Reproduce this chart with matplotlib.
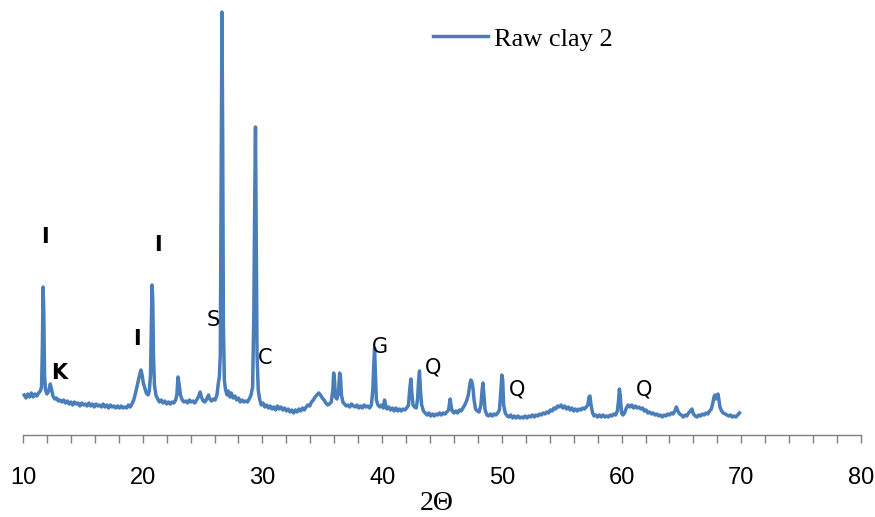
import matplotlib
matplotlib.use('Agg')
import matplotlib.pyplot as plt
from matplotlib.ticker import MultipleLocator
import numpy as np

# XRD pattern (2-theta in degrees, intensity in arbitrary units)
theta_a = [10.10, 10.25, 10.40, 10.55, 10.70, 10.85, 11.00, 11.15, 11.30, 11.45,
           11.55, 11.62, 11.68, 11.74, 11.80, 11.88, 12.00, 12.15, 12.28, 12.38,
           12.50, 12.65, 12.80, 12.95]
inten_a = [40, 37, 41, 38, 42, 38, 41, 39, 42, 44,
           48, 90, 148, 120, 60, 45, 41, 44, 51, 46,
           39, 36, 37, 34]

theta_b = [13.10, 13.25, 13.40, 13.55, 13.70, 13.85, 14.00, 14.15, 14.30, 14.45,
           14.60, 14.75, 14.90, 15.05, 15.20, 15.35, 15.50, 15.65, 15.80, 15.95,
           16.10, 16.25, 16.40, 16.55, 16.70, 16.85, 17.00, 17.15, 17.30, 17.45,
           17.60, 17.75, 17.90, 18.05, 18.20, 18.35, 18.50, 18.65, 18.80, 18.95]
inten_b = [35, 33, 35, 32, 34, 31, 33, 30, 33, 31,
           32, 29, 32, 30, 31, 29, 32, 29, 31, 28,
           31, 29, 30, 28, 31, 28, 30, 27, 30, 28,
           29, 27, 29, 27, 29, 27, 28, 27, 30, 28]

theta_c = [19.10, 19.25, 19.40, 19.55, 19.70, 19.85, 19.95, 20.05, 20.15, 20.30,
           20.45, 20.55, 20.65, 20.72, 20.78, 20.84, 20.90, 20.98, 21.10]
inten_c = [31, 35, 42, 50, 58, 65, 60, 52, 48, 42,
           40, 44, 60, 110, 150, 135, 80, 50, 40]

theta_d = [21.25, 21.40, 21.55, 21.70, 21.85, 22.00, 22.15, 22.30, 22.45, 22.60,
           22.75, 22.85, 22.95, 23.05, 23.15, 23.30, 23.45, 23.60, 23.75, 23.90,
           24.05, 24.20, 24.35, 24.50, 24.65, 24.80, 24.90, 25.05, 25.20, 25.35,
           25.50, 25.60, 25.75, 25.90, 26.05, 26.20]
inten_d = [36, 33, 35, 32, 34, 31, 33, 31, 33, 32,
           35, 40, 58, 50, 40, 35, 33, 34, 32, 35,
           33, 34, 32, 35, 38, 43, 38, 34, 33, 36,
           40, 36, 34, 36, 35, 40]

theta_e = [26.32, 26.40, 26.48, 26.55, 26.62, 26.68, 26.74, 26.82, 26.92, 27.05,
           27.15, 27.28, 27.40, 27.55, 27.70, 27.85, 28.00, 28.15, 28.30, 28.45,
           28.60, 28.75, 28.90, 29.05, 29.18, 29.28, 29.36, 29.42, 29.48, 29.55,
           29.65, 29.78, 29.90]
inten_e = [52, 58, 80, 250, 423, 300, 110, 55, 45, 40,
           44, 38, 42, 37, 39, 35, 37, 33, 35, 33,
           34, 33, 36, 40, 48, 120, 240, 308, 200, 80,
           45, 35, 30]

theta_f = [30.05, 30.20, 30.35, 30.50, 30.65, 30.80, 30.95, 31.10, 31.25, 31.40,
           31.55, 31.70, 31.85, 32.00, 32.15, 32.30, 32.45, 32.60, 32.75, 32.90,
           33.05, 33.20, 33.35, 33.50, 33.65, 33.80, 33.95, 34.10, 34.25, 34.40,
           34.55, 34.70, 34.85, 35.00, 35.15, 35.30, 35.45, 35.60, 35.75]
inten_f = [32, 28, 30, 27, 29, 26, 28, 25, 29, 26,
           28, 25, 27, 24, 26, 23, 25, 22, 25, 23,
           26, 24, 27, 25, 28, 30, 29, 33, 35, 38,
           40, 42, 40, 37, 35, 32, 30, 31, 33]

theta_g = [35.88, 35.95, 36.02, 36.10, 36.22, 36.35, 36.45, 36.52, 36.60, 36.72,
           36.85, 37.00, 37.15, 37.30, 37.45, 37.60, 37.75, 37.90, 38.05, 38.20,
           38.35, 38.50, 38.65, 38.80, 38.95, 39.10, 39.22, 39.30, 39.37, 39.44,
           39.52, 39.65, 39.80, 39.95]
inten_g = [45, 62, 55, 38, 36, 42, 62, 58, 40, 33,
           31, 29, 30, 28, 31, 29, 28, 30, 27, 29,
           27, 30, 28, 29, 27, 30, 45, 70, 87, 60,
           35, 30, 28, 30]

theta_h = [40.10, 40.20, 40.27, 40.40, 40.55, 40.70, 40.85, 41.00, 41.15, 41.30,
           41.45, 41.60, 41.75, 41.90, 42.05, 42.20, 42.30, 42.40, 42.48, 42.58,
           42.70, 42.85, 42.95, 43.05, 43.12, 43.20, 43.30, 43.45, 43.60, 43.75,
           43.90, 44.05, 44.20, 44.35, 44.50, 44.65, 44.80, 44.95, 45.10, 45.25,
           45.40]
inten_h = [27, 35, 31, 26, 28, 25, 27, 24, 27, 24,
           26, 24, 26, 25, 27, 30, 45, 56, 42, 30,
           28, 27, 35, 55, 64, 45, 30, 24, 22, 20,
           22, 19, 21, 19, 21, 20, 22, 20, 22, 21,
           23]

theta_i = [45.55, 45.68, 45.75, 45.85, 46.00, 46.15, 46.30, 46.45, 46.60, 46.75,
           46.90, 47.05, 47.20, 47.32, 47.40, 47.48, 47.58, 47.68, 47.80, 47.95,
           48.10, 48.25, 48.35, 48.42, 48.50, 48.60, 48.75, 48.90, 49.05, 49.20,
           49.35, 49.50, 49.65, 49.80, 49.92, 50.00, 50.07, 50.15, 50.28, 50.45,
           50.60, 50.75, 50.90]
inten_i = [25, 36, 30, 24, 22, 24, 22, 25, 24, 27,
           30, 34, 40, 50, 55, 54, 48, 35, 26, 24,
           23, 30, 45, 52, 40, 25, 20, 19, 21, 19,
           21, 20, 22, 25, 45, 60, 55, 30, 22, 19,
           18, 20, 17]

theta_j = [51.05, 51.20, 51.35, 51.50, 51.65, 51.80, 51.95, 52.10, 52.25, 52.40,
           52.55, 52.70, 52.85, 53.00, 53.15, 53.30, 53.45, 53.60, 53.75, 53.90,
           54.05, 54.20, 54.35, 54.50, 54.65, 54.80, 54.95, 55.10, 55.25, 55.40,
           55.55, 55.70, 55.85, 56.00, 56.15, 56.30, 56.45, 56.60, 56.75, 56.90,
           57.05]
inten_j = [19, 17, 19, 17, 18, 17, 19, 17, 19, 18,
           20, 18, 20, 19, 21, 20, 22, 21, 23, 22,
           25, 24, 27, 26, 29, 28, 30, 27, 29, 26,
           28, 25, 27, 24, 26, 24, 26, 25, 27, 26,
           28]

theta_k = [57.18, 57.28, 57.36, 57.45, 57.58, 57.70, 57.85, 58.00, 58.15, 58.30,
           58.45, 58.60, 58.75, 58.90, 59.05, 59.20, 59.35, 59.50, 59.65, 59.75,
           59.82, 59.90, 60.00, 60.12, 60.25, 60.40, 60.55, 60.70, 60.85, 61.00,
           61.15, 61.30, 61.45, 61.60, 61.75, 61.90, 62.05, 62.20, 62.35, 62.50,
           62.65, 62.80, 62.95]
inten_k = [30, 38, 39, 30, 22, 19, 20, 18, 20, 18,
           20, 18, 19, 18, 20, 19, 21, 20, 24, 35,
           46, 38, 22, 20, 22, 27, 30, 28, 30, 27,
           29, 27, 28, 26, 27, 24, 25, 22, 23, 21,
           22, 20, 21]

theta_l = [63.10, 63.25, 63.40, 63.55, 63.70, 63.85, 64.00, 64.15, 64.30, 64.45,
           64.58, 64.70, 64.85, 65.00, 65.15, 65.30, 65.45, 65.60, 65.75, 65.88,
           66.00, 66.15, 66.30, 66.45, 66.60, 66.75, 66.90, 67.05, 67.20, 67.35,
           67.50, 67.62, 67.72, 67.80, 67.88, 67.96, 68.05, 68.12, 68.22, 68.35,
           68.50, 68.65, 68.80, 68.95, 69.10, 69.25, 69.40, 69.55, 69.70, 69.85]
inten_l = [19, 20, 18, 20, 19, 21, 20, 22, 21, 24,
           28, 24, 21, 20, 18, 20, 19, 22, 24, 26,
           21, 19, 18, 20, 19, 21, 20, 22, 21, 24,
           26, 32, 38, 40, 36, 38, 41, 36, 28, 24,
           22, 21, 20, 19, 20, 18, 19, 18, 20, 22]

# phase labels: I illite, K kaolinite, S, C calcite, G, Q quartz
phase_labels = ['I', 'I', 'I', 'K', 'S', 'C', 'G', 'Q', 'Q', 'Q']
label_pos = [(11.84, 198), (21.28, 190), (19.52, 96), (13.01, 62), (25.87, 115),
             (30.22, 77), (39.82, 88), (44.25, 67), (51.27, 46), (61.88, 45)]

two_theta = theta_a + theta_b + theta_c + theta_d + theta_e + theta_f + \
    theta_g + theta_h + theta_i + theta_j + theta_k + theta_l
intensity = inten_a + inten_b + inten_c + inten_d + inten_e + inten_f + \
    inten_g + inten_h + inten_i + inten_j + inten_k + inten_l

fig = plt.figure(figsize=(8.75, 5.17), dpi=100)
ax = fig.add_axes([0, 0, 1, 1])
line_col = '#4a7ebb'
ax.plot(two_theta, intensity, color=line_col, lw=2.5, label='Raw clay 2', solid_joinstyle='round')

# px 23 -> 10, px 861 -> 80 ; axis line at px 435 from the top
ppu = 838 / 70
ax.set_xlim(10 - 23 / ppu, 80 + 14 / ppu)
ax.set_ylim(-82, 435)

for s in ['left', 'right', 'top']:
    ax.spines[s].set_visible(False)
ax.spines['bottom'].set_position(('data', 0))
ax.spines['bottom'].set_bounds(10, 80)
ax.spines['bottom'].set_color('#7f7f7f')
ax.spines['bottom'].set_linewidth(1.0)
ax.set_yticks([])

ax.xaxis.set_major_locator(MultipleLocator(10))
ax.xaxis.set_minor_locator(MultipleLocator(2))
ax.tick_params(axis='x', which='both', direction='out', length=6, width=1.0, color='#7f7f7f')
ax.tick_params(axis='x', which='major', pad=17, labelsize=17)
for t in ax.get_xticklabels():
    t.set_family('Liberation Sans')

fig.text(437 / 875, 1 - 504 / 517, '2Θ', family='Liberation Serif', fontsize=20,
         ha='center', va='center')

for lab, (px, py) in zip(phase_labels, label_pos):
    bold = lab in ('I', 'K')
    ax.text(px, py, lab, ha='center', va='center', fontsize=15,
            family='DejaVu Sans', fontweight='bold' if bold else 'normal', color='black')

fig.legend(loc='center left', bbox_to_anchor=(433 / 875, 1 - 39 / 517), frameon=False,
           borderpad=0, borderaxespad=0, handlelength=2.1, handletextpad=0.2,
           prop={'family': 'Liberation Serif', 'size': 19})

fig.savefig('out.png', dpi=100)
